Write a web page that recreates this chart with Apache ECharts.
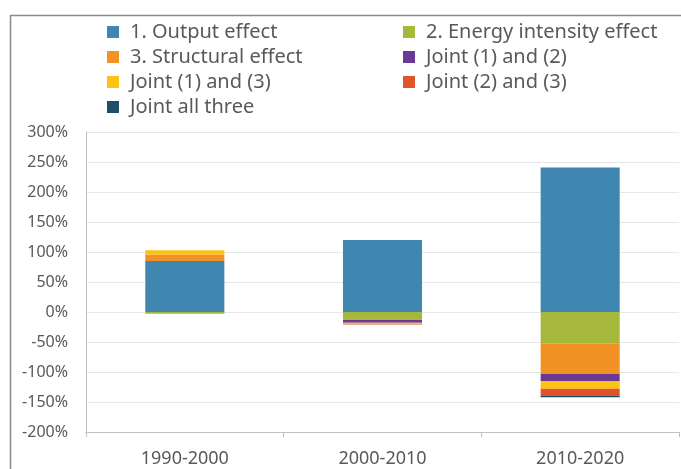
<!DOCTYPE html>
<html>
<head>
<meta charset="utf-8">
<script src="https://cdn.jsdelivr.net/npm/echarts@6/dist/echarts.min.js"></script>
<style>html,body{margin:0;padding:0;background:#fff;}#c{width:681px;height:469px;}</style>
</head>
<body>
<div id="c"></div>
<script>
var categories = ['1990-2000', '2000-2010', '2010-2020'];
var seriesNames = ['1. Output effect', '2. Energy intensity effect', '3. Structural effect', 'Joint (1) and (2)', 'Joint (1) and (3)', 'Joint (2) and (3)', 'Joint all three'];
var outputEffect = [85, 120, 241];
var energyIntensityEffect = [-1.5, -12, -52];
var structuralEffect = [11, -1, -51];
var joint12 = [0, -5, -12];
var joint13 = [7, -1.5, -13];
var joint23 = [-1, -1.5, -12];
var jointAll = [0, 0, -2];
var yTicks = [-200, 300, 50];

var colors = ['#3f87b1', '#a6b83b', '#f39224', '#6a3995', '#fec312', '#e1532b', '#1f4e69'];
var values = [outputEffect, energyIntensityEffect, structuralEffect, joint12, joint13, joint23, jointAll];

var legendPos = [
  [107, 32], [403, 32],
  [107, 57], [403, 57],
  [107, 82], [403, 82],
  [107, 107]
];
var legends = seriesNames.map(function (n, i) {
  return {
    data: [n],
    left: legendPos[i][0],
    top: legendPos[i][1] - 11,
    padding: 0,
    itemWidth: 12,
    itemHeight: 12,
    icon: 'rect',
    selectedMode: false,
    textStyle: { fontFamily: 'Noto Sans', fontSize: 20, color: '#595959', lineHeight: 22, padding: [0, 0, 0, 6] }
  };
});

var chart = echarts.init(document.getElementById('c'), null, { renderer: 'canvas' });
chart.setOption({
  animation: false,
  backgroundColor: '#fff',
  color: colors,
  legend: legends,
  graphic: [{
    type: 'rect',
    shape: { x: 10.5, y: 15.5, width: 720, height: 520 },
    style: { fill: 'none', stroke: '#8a8a8a', lineWidth: 1.5 },
    silent: true
  }],
  grid: { left: 86, right: 2, top: 132, bottom: 37 },
  xAxis: {
    type: 'category',
    data: categories,
    axisLine: { onZero: false, lineStyle: { color: '#bfbfbf', width: 1 } },
    axisTick: { show: true, alignWithLabel: false, length: 5, lineStyle: { color: '#bfbfbf' } },
    axisLabel: { fontFamily: 'Noto Sans', fontSize: 18, color: '#595959', margin: 18 }
  },
  yAxis: {
    type: 'value',
    min: yTicks[0],
    max: yTicks[1],
    interval: yTicks[2],
    axisLine: { show: true, lineStyle: { color: '#bfbfbf', width: 1 } },
    axisTick: { show: false },
    splitLine: { lineStyle: { color: '#e6e6e6', width: 1 } },
    axisLabel: { formatter: '{value}%', fontFamily: 'Noto Sans', fontSize: 16, color: '#595959', margin: 18 }
  },
  series: seriesNames.map(function (n, i) {
    return {
      name: n,
      type: 'bar',
      stack: 'total',
      barWidth: '40%',
      data: values[i],
      itemStyle: { color: colors[i] }
    };
  })
});
</script>
</body>
</html>
